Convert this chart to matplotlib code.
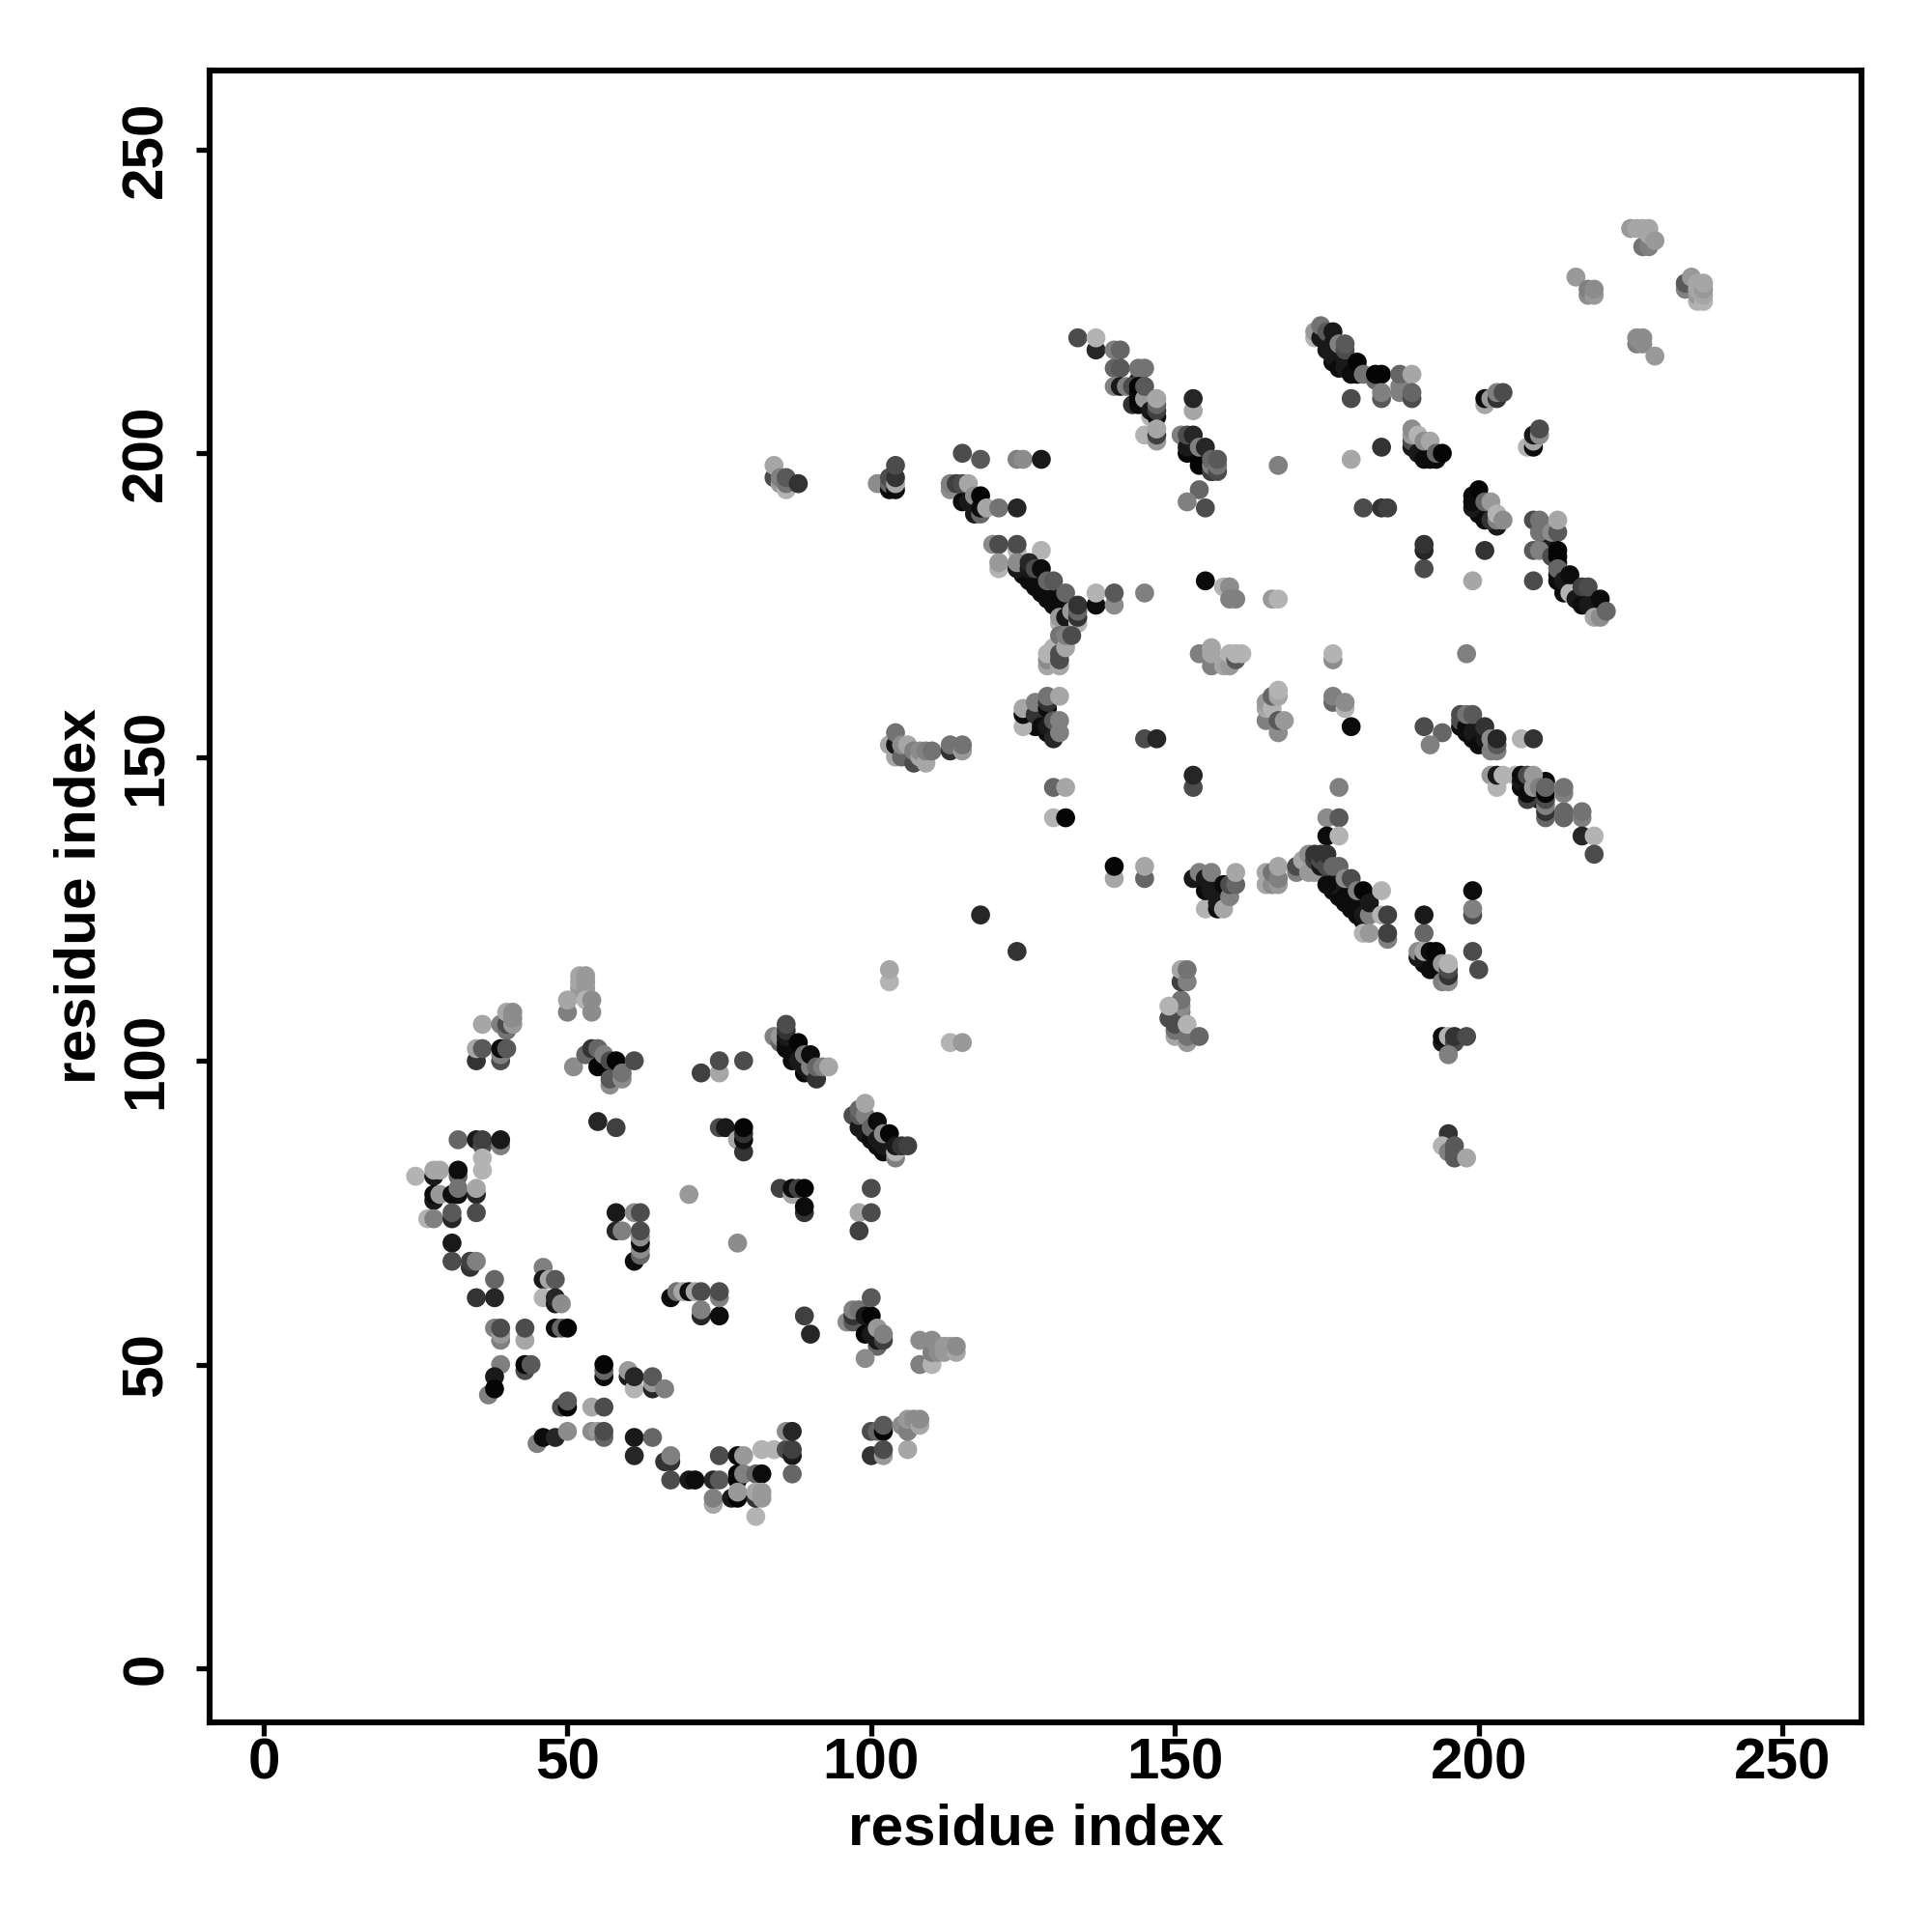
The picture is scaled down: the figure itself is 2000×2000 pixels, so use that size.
import matplotlib
matplotlib.use("Agg")
import matplotlib.pyplot as plt
import numpy as np

# contacts: (residue i, residue j, grey level)
# dark strand pairings, these sit underneath the rest
strand_pairs = [
    (54,101,.05),(55,100,.05),(56,99,.05),(57,98,.05),(87,101,.05),(88,101,.1),(99,90,.1),(100,88,.05),(101,86,.05),(102,87,.1),(103,85,.1),
    (99,56,.05),(100,56,.1),(101,55,.05),(126,156,.05),(127,155,.05),(127,156,.1),(128,156,.1),(129,154,.05),(128,180,.1),
    (128,177,.05),(130,175,.05),(131,174,.05),(132,172,.05),(133,172,.05),(129,178,.1),(130,177,.1),(126,179,.05),(125,180,.05),
    (144,212,.1),(145,210,.1),(146,208,.1),(152,202,.05),(153,200,.05),(153,201,.1),(154,199,.05),(154,200,.1),(155,198,.05),(155,199,.1),(156,197,.05),
    (156,127,.05),(157,127,.1),(158,126,.05),(176,128,.05),(177,127,.05),(178,126,.05),(179,125,.05),(180,124,.05),(181,123,.05),
    (176,131,.15),(177,130,.15),(178,129,.15),(179,128,.15),(180,127,.15),(181,126,.15),(182,125,.15),(176,129,.1),(177,129,.1),(178,128,.1),(179,127,.1),(180,126,.1),
    (176,215,.05),(177,216,.05),(178,216,.05),(179,215,.1),(179,214,.05),(180,214,.05),(180,213,.05),(190,201,.05),(191,200,.05),(192,200,.05),
    (191,116,.05),(192,116,.05),(192,117,.05),(193,115,.05),(193,116,.05),(194,114,.05),(194,115,.05),
    (197,155,.05),(198,154,.05),(199,153,.05),(200,153,.05),(201,152,.05),(202,152,.1),(200,191,.05),(200,190,.05),(201,190,.05),(202,190,.1),(203,188,.1),
    (207,145,.05),(208,145,.05),(208,146,.05),(209,144,.05),(210,143,.05),(210,144,.05),(211,146,.05),
    (213,180,.05),(213,182,.1),(214,178,.05),(215,178,.05),(215,179,.05),(216,177,.05),(216,178,.05),(217,176,.05),(217,177,.05),(218,176,.05),(219,175,.05),(219,176,.05),(211,185,.1),
]
domain_a_left = [
    (25,81,.7),(28,81,.1),(28,82,.65),(29,82,.65),(32,81,.4),(32,82,.05),(28,77,.1),(28,78,.05),(29,78,.6),
    (31,78,.05),(32,78,.05),(32,79,.45),(35,78,.15),(35,79,.65),(27,74,.7),(28,74,.5),(31,74,.15),(31,75,.35),
    (35,75,.3),(31,70,.1),(32,87,.4),(35,87,.1),(36,86,.3),(36,87,.25),(39,86,.5),(39,87,.1),(36,84,.7),(36,82,.7),
    (36,106,.65),(39,106,.5),(40,105,.45),(40,106,.3),(40,108,.65),(41,106,.6),(41,107,.55),(41,108,.55),
    (35,100,.2),(35,102,.65),(36,102,.35),(39,100,.3),(39,101,.5),(39,102,.05),(40,102,.35),
    (52,111,.45),(52,112,.6),(52,113,.65),(52,114,.65),(53,112,.6),(53,113,.6),(53,114,.6),
    (50,108,.5),(50,110,.65),(53,110,.7),(54,108,.55),(54,110,.55),
    (51,99,.55),(53,101,.4),(54,102,.2),(55,99,.02),(55,102,.4),(56,101,.5),(57,96,.55),(57,97,.35),
    (57,100,.3),(58,100,.02),(59,97,.55),(59,98,.45),(61,100,.3),
    (55,90,.15),(58,89,.25),(70,78,.6),(58,75,.1),(61,75,.55),(62,75,.3),(58,72,.15),(59,72,.5),
    (61,67,.05),(62,68,.4),(62,69,.55),(62,70,.05),(62,71,.55),(62,72,.3),
    (31,67,.3),(34,66,.2),(34,67,.25),(35,67,.5),(38,64,.4),(35,61,.2),(38,61,.15),
    (46,66,.5),(46,64,.1),(47,64,.65),(48,64,.35),(46,61,.7),(48,60,.1),(48,61,.15),(49,60,.55),
    (38,56,.5),(39,54,.5),(39,55,.6),(39,56,.3),(43,54,.65),(43,56,.3),(48,56,.05),(49,56,.4),(50,56,.02),
    (39,50,.5),(38,48,.1),(37,45,.5),(38,46,.02),(43,49,.3),(43,50,.02),(44,50,.35),
    (56,48,.05),(56,49,.4),(56,50,.02),(60,48,.1),(60,49,.6),(61,46,.7),(61,48,.15),(64,46,.15),(64,47,.6),(64,48,.35),(66,46,.5),
    (49,43,.3),(50,43,.02),(50,44,.35),(54,43,.65),(56,43,.3),(54,39,.55),(55,39,.6),(56,38,.4),(56,39,.3),
    (45,37,.5),(46,38,.05),(48,38,.15),(50,39,.55),(61,38,.1),(64,38,.4),(61,35,.15),(66,34,.2),(67,34,.2),(67,35,.5),
    (67,31,.3),(70,31,.1),
]
domain_a_right = [
    (67,61,.05),(68,62,.45),(69,62,.65),(70,62,.05),(71,62,.65),(72,62,.3),(72,58,.15),(72,59,.5),
    (75,58,.05),(75,61,.5),(75,62,.3),(89,58,.25),(90,55,.15),
    (96,57,.55),(97,57,.35),(97,58,.2),(97,59,.5),(98,59,.45),(99,55,.02),(99,58,.1),(100,55,.1),
    (100,58,.02),(100,61,.35),(101,53,.4),(101,54,.1),(101,56,.6),(102,54,.25),(102,55,.5),(99,51,.55),
    (108,50,.5),(108,54,.55),(110,50,.7),(110,52,.5),(110,54,.55),(111,52,.55),(112,52,.6),(112,53,.6),
    (113,53,.6),(114,52,.65),(114,53,.55),
    (75,35,.3),(78,35,.05),(79,35,.6),(82,36,.7),(84,36,.7),(86,36,.3),(86,39,.55),(87,35,.1),(87,36,.25),(87,39,.15),(87,32,.4),
    (71,31,.05),(74,31,.15),(75,31,.35),(78,31,.02),(78,32,.02),(79,32,.5),(81,32,.4),(82,32,.05),
    (74,27,.65),(74,28,.5),(77,28,.1),(78,28,.02),(78,29,.6),(81,25,.7),(81,28,.2),(81,29,.65),(82,28,.6),(82,29,.6),
    (100,35,.2),(100,39,.3),(101,39,.4),(102,39,.02),(102,40,.35),(102,35,.6),(102,36,.3),
    (105,40,.55),(106,36,.65),(106,39,.5),(106,41,.6),(107,41,.55),(108,40,.65),(108,41,.55),
    (103,113,.7),(103,115,.65),(113,103,.7),(115,103,.6),(72,98,.25),(75,98,.65),(75,100,.3),(79,100,.3),
    (75,89,.3),(76,89,.1),(78,87,.65),(79,85,.2),(79,87,.05),(79,88,.2),(79,89,.02),
    (85,79,.25),(87,78,.65),(87,79,.05),(88,79,.25),(89,79,.02),(89,75,.2),(89,76,.05),
    (100,79,.3),(98,75,.65),(100,75,.3),(98,72,.25),(78,70,.55),
    (84,104,.5),(85,103,.4),(85,104,.6),(86,102,.05),(86,103,.05),(86,104,.1),(86,105,.2),(86,106,.3),
    (87,100,.05),(88,100,.1),(88,103,.02),(89,98,.02),(89,99,.1),(89,101,.45),(90,98,.1),(90,99,.5),(90,101,.05),
    (91,97,.2),(91,99,.4),(92,99,.5),(93,99,.65),
    (97,91,.3),(98,89,.1),(98,91,.35),(98,92,.4),(99,88,.1),(99,91,.5),(99,93,.65),(100,87,.05),(100,89,.4),
    (101,87,.1),(101,90,.05),(102,85,.05),(102,86,.1),(102,88,.55),(103,88,.02),(104,84,.5),(104,85,.7),(104,86,.1),
    (105,86,.2),(106,86,.25),
]
domain_b_top = [
    (84,196,.3),(84,198,.65),(85,195,.6),(85,196,.5),(86,194,.7),(86,195,.45),(86,196,.35),(88,195,.2),
    (101,195,.55),(103,194,.05),(103,195,.4),(103,196,.3),(104,194,.05),(104,195,.65),(104,196,.2),(104,198,.3),
    (115,200,.3),(118,199,.35),(124,199,.5),(125,199,.55),(128,199,.1),
    (113,194,.55),(113,195,.5),(114,195,.25),(115,192,.05),(115,195,.3),(116,192,.1),(116,195,.65),
    (117,190,.1),(117,193,.55),(118,190,.4),(118,191,.05),(118,193,.02),(119,191,.65),(121,191,.45),(124,191,.15),
    (120,185,.55),(121,185,.3),(124,184,.7),(124,185,.3),(128,184,.7),(121,181,.7),(121,182,.6),(124,181,.1),(124,182,.55),
    (126,181,.1),(126,182,.15),(127,178,.05),(127,181,.3),(128,181,.05),(129,176,.05),(129,179,.4),(130,179,.35),
    (131,176,.05),(132,177,.4),(131,172,.7),(131,173,.6),(132,173,.1),(133,174,.6),(134,172,.7),(134,173,.2),(134,174,.4),(134,175,.2),
    (137,175,.05),(137,177,.7),(140,175,.55),(140,177,.35),(145,177,.5),
    (129,165,.65),(129,166,.55),(129,167,.7),(130,168,.7),(131,165,.65),(131,166,.3),(131,167,.3),(131,170,.45),
    (132,168,.65),(132,170,.5),(133,170,.3),
    (134,219,.3),(137,217,.15),(137,219,.7),(140,217,.5),(141,217,.4),(140,214,.4),(141,214,.35),(144,214,.45),(145,214,.45),
    (140,211,.5),(141,211,.1),(142,211,.5),(143,208,.2),(143,211,.3),(144,208,.05),(144,209,.02),(144,210,.05),(144,211,.02),
    (145,208,.05),(145,209,.6),(145,211,.35),(146,206,.7),(146,207,.1),(147,206,.05),(147,207,.25),(147,208,.4),(147,209,.65),
    (145,203,.7),(147,202,.6),(147,203,.25),(147,204,.65),(153,207,.65),(153,209,.15),
    (151,203,.5),(152,200,.02),(152,201,.1),(152,203,.3),(153,203,.15),(154,198,.02),(154,201,.5),(155,201,.15),
    (156,197,.25),(156,198,.5),(156,199,.4),(157,197,.3),(157,198,.45),(157,199,.35),
    (154,194,.4),(152,192,.5),(155,191,.3),(167,198,.5),(155,179,.05),(158,178,.7),(159,178,.55),(159,176,.5),(160,176,.5),
    (166,176,.6),(167,176,.7),
]
domain_b_right = [
    (173,219,.7),(173,220,.6),(174,219,.1),(174,221,.45),(175,217,.1),(175,220,.35),(176,216,.1),(176,218,.1),(176,220,.1),
    (177,214,.05),(177,218,.5),(178,214,.1),(178,215,.1),(178,217,.3),(178,218,.35),(179,213,.05),(180,215,.02),
    (181,213,.45),(183,212,.4),(183,213,.02),(184,213,.02),(187,211,.5),(187,213,.4),(189,213,.65),
    (184,209,.35),(184,210,.5),(187,210,.5),(189,209,.3),(189,210,.4),(179,209,.3),
    (201,208,.65),(201,209,.05),(202,209,.6),(203,209,.2),(203,210,.5),(204,210,.3),
    (208,201,.7),(209,201,.05),(209,202,.65),(209,203,.1),(210,203,.55),(210,204,.3),(184,201,.2),(179,199,.65),
    (189,201,.1),(189,202,.3),(189,203,.6),(189,204,.55),(190,200,.1),(190,203,.7),(191,199,.05),(191,202,.55),
    (192,199,.05),(192,202,.65),(193,199,.05),(193,200,.4),(194,200,.02),
    (199,191,.1),(199,192,.05),(199,193,.05),(200,194,.02),(201,189,.05),(201,192,.4),(202,189,.2),(202,192,.6),
    (203,189,.5),(203,190,.7),(204,189,.55),
    (209,189,.3),(210,187,.45),(210,189,.45),(212,187,.55),(213,187,.35),(213,189,.65),
    (209,184,.35),(210,184,.5),(212,183,.3),(213,183,.02),(213,184,.02),(201,184,.2),(191,181,.3),(191,184,.15),(191,185,.2),
    (181,191,.3),(184,191,.2),(185,191,.25),(199,179,.65),(209,179,.3),
    (213,179,.05),(213,181,.4),(214,177,.05),(214,179,.1),(215,177,.7),(215,180,.05),(216,176,.1),(217,175,.05),(217,178,.25),
    (218,175,.1),(218,178,.3),(219,173,.65),(220,173,.55),(220,176,.05),(221,174,.4),
    (216,229,.6),(218,226,.55),(218,227,.5),(219,226,.6),(219,227,.55),(225,237,.6),(226,237,.65),(227,234,.45),(227,237,.65),
    (228,234,.5),(228,236,.65),(228,237,.65),(229,235,.6),(226,218,.5),(226,219,.55),(227,218,.55),(227,219,.55),(229,216,.6),
    (234,227,.5),(234,228,.35),(235,229,.6),(236,225,.7),(236,226,.6),(236,227,.65),(236,228,.65),(237,225,.7),(237,226,.65),(237,227,.6),(237,228,.65),
]
domain_b_middle = [
    (154,167,.5),(156,165,.5),(156,167,.65),(156,168,.65),(158,165,.65),(159,165,.6),(159,167,.7),(160,166,.35),(160,167,.7),(161,167,.7),
    (165,156,.5),(165,158,.65),(165,159,.6),(166,158,.7),(166,160,.4),(167,154,.55),(167,156,.35),(167,160,.65),(167,161,.7),(168,156,.6),
    (125,155,.7),(125,157,.05),(125,158,.65),(127,157,.2),(127,159,.5),(128,155,.05),(129,155,.1),(129,158,.05),(129,159,.2),(129,160,.45),
    (130,153,.15),(130,156,.35),(131,154,.5),(131,156,.5),(131,160,.65),
    (145,153,.3),(147,153,.15),(153,145,.3),(153,147,.15),(130,145,.4),(132,145,.65),(130,140,.7),(132,140,.02),
    (118,124,.15),(124,118,.2),(140,130,.65),(140,132,.02),(145,130,.4),(145,132,.65),
    (153,130,.1),(154,131,.5),(155,125,.7),(155,128,.05),(155,130,.1),(156,128,.1),(156,131,.5),(157,125,.05),(157,126,.1),
    (158,125,.65),(158,129,.05),(159,127,.5),(159,129,.3),(160,129,.4),(160,131,.65),
    (165,129,.65),(165,131,.65),(166,129,.55),(166,131,.45),(167,129,.6),(167,130,.5),(167,132,.65),
    (104,150,.65),(103,152,.65),(104,152,.1),(104,154,.45),(105,150,.4),(105,152,.55),(106,152,.65),(107,149,.3),(107,151,.5),
    (108,150,.65),(108,151,.55),(109,149,.65),(109,151,.5),(110,151,.45),(113,151,.2),(113,152,.45),(115,151,.6),(115,152,.45),
    (176,166,.55),(176,167,.7),(176,159,.4),(176,160,.5),(178,158,.7),(178,159,.55),(179,155,.05),
    (191,155,.3),(194,154,.4),(192,152,.5),(198,167,.5),
    (197,156,.3),(197,157,.3),(198,155,.05),(198,157,.45),(199,154,.1),(199,157,.35),(200,152,.05),(201,153,.1),(201,155,.2),
    (202,151,.5),(202,153,.55),(203,151,.5),(203,152,.35),(203,153,.15),(207,153,.7),(209,153,.2),
    (202,147,.6),(203,145,.7),(203,147,.1),(204,147,.7),(206,147,.7),(207,146,.1),(207,147,.05),(208,143,.25),(208,144,.05),(208,147,.3),
    (209,145,.6),(209,147,.6),(210,145,.5),(211,140,.4),(211,141,.2),(211,142,.5),(211,143,.3),(211,144,.02),(211,145,.4),
    (214,140,.4),(214,141,.4),(214,144,.5),(214,145,.45),(217,140,.5),(217,141,.45),(217,137,.15),(219,137,.7),(219,134,.3),
    (177,145,.5),(175,140,.55),(177,140,.35),(175,137,.05),(177,137,.7),
    (170,131,.5),(170,132,.3),(171,133,.65),(172,131,.6),(172,134,.55),(173,131,.6),(173,133,.25),(173,134,.2),(174,132,.1),(174,133,.3),(174,134,.2),
    (175,129,.05),(175,132,.3),(175,134,.2),(176,132,.4),(177,132,.4),(178,127,.05),(178,130,.55),(179,130,.3),(180,125,.05),(180,128,.5),
    (181,124,.1),(181,128,.02),(182,124,.5),(182,126,.1),(184,124,.7),(184,128,.7),(185,124,.25),
    (181,121,.7),(182,121,.6),(185,120,.5),(185,121,.25),(191,121,.4),(191,124,.1),(199,124,.3),(199,125,.5),(199,128,.05),
    (199,118,.3),(200,115,.3),
    (151,108,.5),(151,109,.55),(151,110,.45),(151,113,.25),(151,115,.65),(152,113,.5),(152,115,.45),(149,107,.3),(149,109,.7),
    (150,104,.65),(150,105,.45),(150,106,.3),(152,103,.6),(152,104,.45),(152,106,.7),(154,104,.4),
    (190,117,.1),(190,118,.55),(191,117,.1),(191,118,.65),(192,115,.05),(192,118,.05),(193,118,.02),(194,113,.5),(194,116,.6),
    (195,113,.55),(195,114,.2),(195,115,.3),(195,116,.7),
    (194,103,.1),(194,104,.05),(195,104,.7),(196,103,.3),(196,104,.2),(198,104,.3),(195,101,.5),
    (195,88,.2),(194,86,.7),(195,85,.5),(196,84,.35),(196,85,.35),(196,86,.35),(198,84,.65),
]
ticks = [0, 50, 100, 150, 200, 250]

contacts = strand_pairs + domain_a_left + domain_a_right + domain_b_top + domain_b_right + domain_b_middle
res_i = np.array([c[0] for c in contacts])
res_j = np.array([c[1] for c in contacts])
shade = np.array([c[2] for c in contacts])

plt.rcParams['font.family'] = ['Liberation Sans', 'DejaVu Sans']
plt.rcParams['font.weight'] = 'bold'

fig = plt.figure(figsize=(10, 10), dpi=200)
ax = fig.add_axes([217 / 2000, 1 - 1783 / 2000, 1710 / 2000, 1710 / 2000])

ax.scatter(res_i, res_j, c=shade, cmap='gray', vmin=0, vmax=1, s=50, linewidths=0)

ax.set_xlim(-8.9, 263)
ax.set_ylim(-8.9, 263)
ax.set_xticks(ticks)
ax.set_yticks(ticks)
ax.tick_params(axis='both', length=5, width=1.9, labelsize=21.7)
ax.tick_params(axis='x', pad=0.5)
ax.tick_params(axis='y', pad=8.4)
for lab in ax.get_yticklabels():
    lab.set_rotation(90)
    lab.set_va('center')
for s in ax.spines.values():
    s.set_linewidth(2.2)

ax.set_xlabel('residue index', fontsize=21.7, fontweight='bold')
ax.set_ylabel('residue index', fontsize=21.7, fontweight='bold')
ax.xaxis.set_label_coords(0.5, -0.049)
ax.yaxis.set_label_coords(-0.062, 0.5)

fig.savefig('out.png', dpi=200)
